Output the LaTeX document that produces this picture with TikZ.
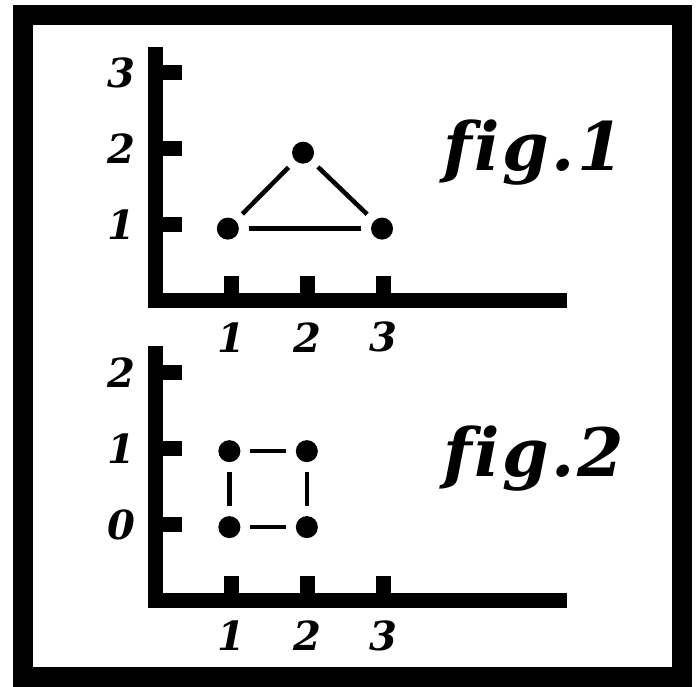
\documentclass[tikz,border=0pt]{standalone}
\usepackage{fontspec}
\setmainfont{DejaVu Serif}
\begin{document}
\begin{tikzpicture}[
  axis/.style={line width=5.6pt, line join=miter},
  tickmark/.style={line width=5.6pt},
  dot/.style={circle, fill, inner sep=0pt, minimum size=0.29cm},
  link/.style={line width=1.7pt, shorten >=0.12cm, shorten <=0.12cm},
  num/.style={font=\fontsize{15}{15}\selectfont\bfseries\itshape},
  title/.style={font=\fontsize{25}{25}\selectfont\bfseries\itshape, anchor=base west}]
\useasboundingbox (-2.05,-5.08) rectangle (7.14,3.96);
\draw[line width=7.5pt] (-1.75,-4.95) rectangle (6.93,3.76);

% fig. 1
\draw[axis] (0,3.34) -- (0,0) -- (5.41,0);
\foreach \k in {1,2,3} {
  \draw[tickmark] (0.1,\k) -- (0.35,\k);
  \draw[tickmark] (\k,0.1) -- (\k,0.33);
  \node[num] (ya\k) at (-0.45,\k) {\k};
  \node[num] (xa\k) at (\k,-0.48) {\k};
}
\node[dot] (a1) at (0.95,0.95) {};
\node[dot] (a2) at (1.94,1.95) {};
\node[dot] (a3) at (2.98,0.95) {};
\draw[link] (a1) -- (a2);
\draw[link] (a2) -- (a3);
\draw[link] (a1) -- (a3);
\node[title] (t1) at (3.66,1.72) {f\kern1pt i\kern1pt g\kern1pt.\kern1pt 1};

% fig. 2
\begin{scope}[yshift=-2.95cm]
\draw[axis] (0,2.35) -- (0,-1) -- (5.41,-1);
\foreach \k in {0,1,2} {
  \draw[tickmark] (0.1,\k) -- (0.35,\k);
  \node[num] (yb\k) at (-0.45,\k) {\k};
}
\foreach \k in {1,2,3} {
  \draw[tickmark] (\k,-0.9) -- (\k,-0.67);
  \node[num] (xb\k) at (\k,-1.46) {\k};
}
\node[dot] (b1) at (0.97,0.97) {};
\node[dot] (b2) at (1.99,0.97) {};
\node[dot] (b3) at (0.97,-0.03) {};
\node[dot] (b4) at (1.99,-0.03) {};
\draw[link] (b1) -- (b2);
\draw[link] (b3) -- (b4);
\draw[link] (b1) -- (b3);
\draw[link] (b2) -- (b4);
\node[title] (t2) at (3.66,0.63) {f\kern1pt i\kern1pt g\kern1pt.\kern1pt 2};
\end{scope}
\end{tikzpicture}
\end{document}
